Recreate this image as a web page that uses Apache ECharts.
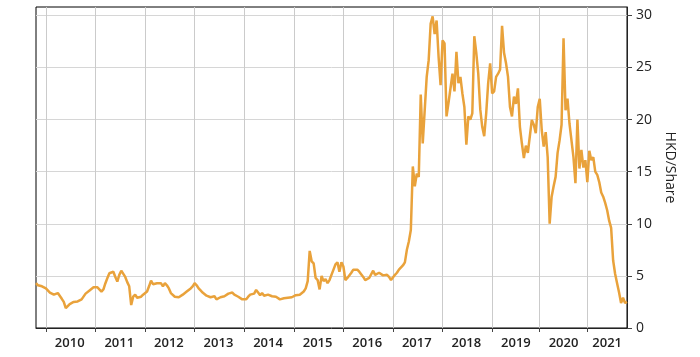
<!DOCTYPE html>
<html>
<head>
<meta charset="utf-8">
<script src="https://cdn.jsdelivr.net/npm/echarts@6/dist/echarts.min.js"></script>
<style>
html,body{margin:0;padding:0;background:#fff;}
#chart{width:700px;height:357px;}
</style>
</head>
<body>
<div id="chart"></div>
<script>
// ---- Data (HKD/Share, sampled roughly every 2 weeks) ----
const years = [2009, 2010, 2011, 2012, 2013, 2014, 2015, 2016, 2017, 2018, 2019, 2020, 2021];
const price2009 = [4.3, 4.1, 4.15, 4.0, 3.95];
const price2010 = [3.8, 3.9, 3.4, 3.3, 3.2, 3.15, 3.35, 3.2, 2.8, 2.5, 1.9, 2.1, 2.3, 2.2, 2.5, 2.4, 2.55, 2.45, 2.75, 2.9, 3.3, 3.4, 3.6, 3.5, 3.9];
const price2011 = [4.0, 3.9, 4.0, 3.5, 3.7, 4.3, 4.8, 5.25, 5.1, 5.4, 4.9, 4.45, 5.1, 5.5, 5.35, 4.9, 4.4, 4.0, 2.2, 3.0, 3.2, 2.9, 2.85, 3.0, 3.2];
const price2012 = [3.1, 3.5, 4.0, 4.55, 4.2, 4.1, 4.3, 4.15, 4.3, 4.0, 4.3, 4.1, 3.8, 3.35, 3.2, 3.0, 2.85, 2.95, 3.1, 3.2, 3.35, 3.5, 3.6, 3.8, 4.0];
const price2013 = [4.3, 4.1, 3.8, 3.6, 3.4, 3.3, 3.1, 3.0, 2.95, 3.0, 3.05, 2.75, 2.8, 2.95, 3.0, 3.05, 3.1, 3.3, 3.25, 3.4, 3.2, 3.2, 3.0, 2.85, 2.75];
const price2014 = [2.7, 2.75, 3.0, 3.2, 3.35, 3.3, 3.65, 3.4, 3.15, 3.35, 3.1, 3.0, 3.2, 3.15, 3.05, 3.0, 3.0, 2.9, 2.75, 2.8, 2.85, 2.85, 2.9, 3.0, 2.95];
const price2015 = [3.1, 3.15, 3.2, 3.2, 3.2, 3.5, 3.8, 4.5, 7.4, 6.4, 6.2, 4.8, 4.6, 3.7, 5.0, 4.5, 4.7, 4.3, 4.6, 4.5, 5.6, 6.1, 6.3, 5.4, 6.3];
const price2016 = [5.9, 4.6, 4.8, 4.8, 5.3, 5.6, 5.5, 5.6, 5.4, 5.25, 4.9, 4.6, 4.7, 4.8, 4.8, 5.5, 5.1, 5.1, 5.3, 5.2, 5.05, 5.0, 5.1, 4.9, 4.6];
const price2017 = [4.5, 5.1, 5.3, 5.6, 5.7, 6.0, 6.3, 7.5, 8.3, 9.4, 15.5, 13.6, 14.8, 14.5, 22.4, 17.7, 20.9, 24.1, 25.7, 29.2, 29.9, 28.2, 29.5, 26.0, 23.3];
const price2018 = [27.6, 27.3, 20.3, 21.6, 23.0, 24.4, 22.7, 26.5, 23.5, 24.1, 22.5, 21.2, 17.6, 20.3, 20.0, 20.6, 28.0, 26.4, 24.4, 21.0, 19.3, 18.4, 20.6, 23.5, 25.4];
const price2019 = [22.5, 22.7, 24.1, 24.4, 24.8, 29.0, 26.4, 25.4, 24.1, 21.2, 20.3, 22.2, 21.5, 23.0, 19.3, 17.7, 16.3, 17.5, 16.8, 18.4, 19.97, 19.5, 18.7, 21.2];
const price2020 = [22.0, 19.0, 17.4, 18.8, 16.4, 10.0, 12.6, 13.6, 14.5, 16.8, 18.0, 19.5, 27.8, 20.9, 22.0, 19.6, 18.0, 16.4, 13.9, 20.0, 15.3, 17.1, 15.4, 16.1];
const price2021 = [14.0, 17.0, 16.1, 16.4, 15.0, 14.7, 14.0, 13.0, 12.6, 12.0, 11.3, 10.3, 9.6, 6.5, 5.2, 4.3, 3.4, 2.4, 2.9, 2.4, 2.5];
const yTicks = [0, 5, 10, 15, 20, 25, 30];
const yMin = 0, yMax = 30.8;

// ---- Build category axis from yearly arrays ----
const yearly = [price2009, price2010, price2011, price2012, price2013, price2014, price2015,
                price2016, price2017, price2018, price2019, price2020, price2021];
const categories = [];
const values = [];
const tickIdx = new Set();
const labelIdx = new Set();
years.forEach((yr, k) => {
  const arr = yearly[k];
  const start = categories.length;
  arr.forEach((v, i) => {
    categories.push(yr + '-' + String(i + 1).padStart(2, '0'));
    values.push(v);
  });
  if (k > 0) tickIdx.add(start);
  if (k > 0 && k < years.length - 1) labelIdx.add(start + Math.floor(arr.length / 2));
  if (k === years.length - 1) labelIdx.add(start + Math.round((arr.length - 1) / 2));
});

const chart = echarts.init(document.getElementById('chart'), null, {renderer: 'canvas'});
chart.setOption({
  animation: false,
  grid: {left: 36, top: 7, right: 73, bottom: 29, show: true, borderColor: '#000', borderWidth: 1},
  xAxis: {
    type: 'category',
    data: categories,
    boundaryGap: false,
    axisLine: {lineStyle: {color: '#222', width: 1}},
    axisTick: {show: true, length: 4, interval: (i) => tickIdx.has(i), lineStyle: {color: '#444'}},
    axisLabel: {
      interval: (i) => labelIdx.has(i),
      formatter: (v) => v.slice(0, 4),
      fontSize: 13, fontWeight: 600, color: '#222', fontFamily: 'Open Sans', margin: 9
    },
    splitLine: {show: true, interval: (i) => tickIdx.has(i), lineStyle: {color: '#cbcbcb', width: 1}}
  },
  yAxis: {
    type: 'value',
    position: 'right',
    min: yMin, max: yMax, interval: 5,
    name: 'HKD/Share',
    nameLocation: 'middle',
    nameRotate: -90,
    nameGap: 26,
    nameTextStyle: {fontSize: 14, color: '#222', fontFamily: 'Open Sans'},
    axisLine: {show: true, lineStyle: {color: '#222', width: 1}},
    axisTick: {show: true, length: 5, customValues: yTicks, lineStyle: {color: '#444'}},
    axisLabel: {customValues: yTicks, fontSize: 14, color: '#222', fontFamily: 'Open Sans', margin: 9},
    splitLine: {show: true, lineStyle: {color: '#d6d6d6', width: 1}}
  },
  series: [{
    type: 'line',
    data: values,
    symbol: 'none',
    showSymbol: false,
    lineStyle: {color: '#E9A23B', width: 2.5},
    itemStyle: {color: '#E9A23B'}
  }]
});
</script>
</body>
</html>
